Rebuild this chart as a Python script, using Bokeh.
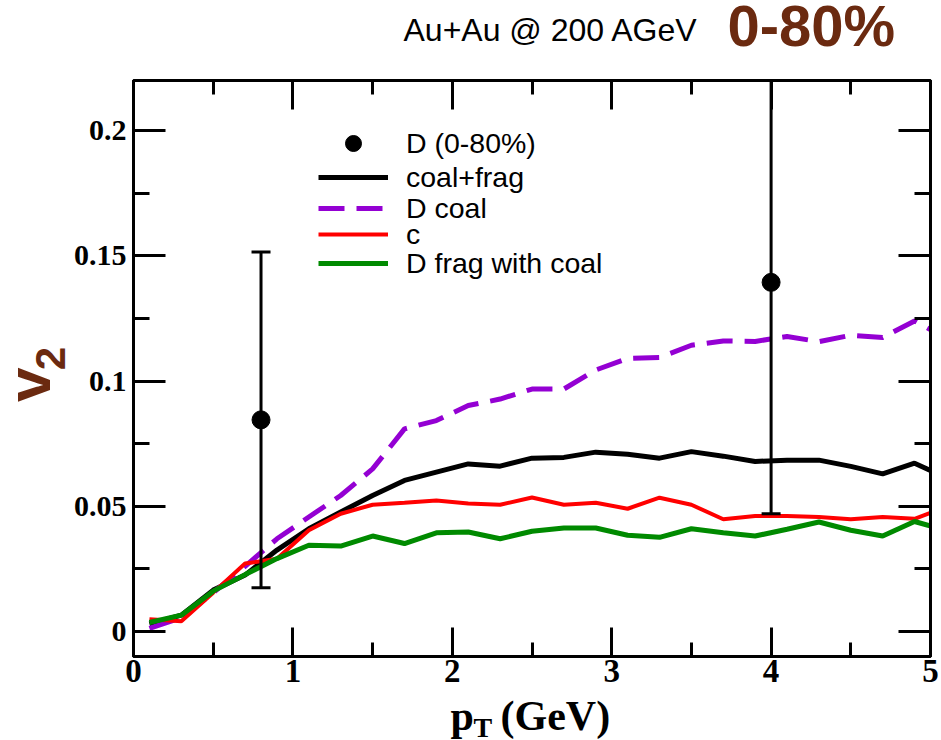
import math

from bokeh.embed import file_html
from bokeh.layouts import column, row
from bokeh.models import (ColumnDataSource, FixedTicker, Label, Legend,
                          LegendItem, LinearAxis, Range1d)
from bokeh.plotting import figure
from bokeh.resources import INLINE

# ---- data -----------------------------------------------------------------
pt = [0.1, 0.3, 0.5, 0.7, 0.9, 1.1, 1.3, 1.5, 1.7, 1.9, 2.1, 2.3, 2.5,
      2.7, 2.9, 3.1, 3.3, 3.5, 3.7, 3.9, 4.1, 4.3, 4.5, 4.7, 4.9, 5.1]

v2_coal_frag = [0.0030, 0.0065, 0.0165, 0.0225, 0.0325, 0.0410, 0.0477,
                0.0543, 0.0603, 0.0636, 0.0669, 0.0660, 0.0692, 0.0695,
                0.0716, 0.0708, 0.0692, 0.0718, 0.0700, 0.0679, 0.0684,
                0.0684, 0.0659, 0.0629, 0.0672, 0.0614]

v2_d_coal = [0.0012, 0.0055, 0.0155, 0.0260, 0.0370, 0.0457, 0.0543,
             0.0649, 0.0809, 0.0842, 0.0902, 0.0928, 0.0968, 0.0968,
             0.1044, 0.1090, 0.1094, 0.1143, 0.1160, 0.1158, 0.1178,
             0.1157, 0.1183, 0.1174, 0.1240, 0.1170]

v2_c = [0.0049, 0.0041, 0.0155, 0.0271, 0.0290, 0.0404, 0.0470, 0.0506,
        0.0514, 0.0523, 0.0511, 0.0506, 0.0535, 0.0506, 0.0514, 0.0490,
        0.0534, 0.0506, 0.0448, 0.0461, 0.0461, 0.0457, 0.0448, 0.0457,
        0.0450, 0.0498]

v2_d_frag = [0.0036, 0.0065, 0.0161, 0.0227, 0.0291, 0.0344, 0.0341,
             0.0381, 0.0351, 0.0394, 0.0397, 0.0370, 0.0400, 0.0413,
             0.0413, 0.0384, 0.0376, 0.0410, 0.0394, 0.0381, 0.0408,
             0.0437, 0.0404, 0.0381, 0.0439, 0.0403]

# measured D-meson v2 (0-80%) with its uncertainty
pt_d = [0.8, 4.0]
v2_d = [0.0845, 0.1394]
v2_d_err = [0.0670, 0.0924]

x_ticks = [0, 1, 2, 3, 4, 5]
x_tick_labels = ["0", "1", "2", "3", "4", "5"]
x_minor = [0.5, 1.5, 2.5, 3.5, 4.5]
y_ticks = [0, 0.05, 0.1, 0.15, 0.2]
y_tick_labels = ["0", "0.05", "0.1", "0.15", "0.2"]
y_minor = [0.025, 0.075, 0.125, 0.175]

# ---- page geometry --------------------------------------------------------
W, H = 941, 740
TOP_H = 60          # strip holding the collision / centrality caption
BOT_H = 42          # strip holding the x title
LEFT_W = 70         # strip holding the y title
MID_H = H - TOP_H - BOT_H
BROWN = "#6b2a10"

# distance from a text box's centre down to its baseline, per font size
SANS_MID = 0.35
SERIF_MID = 0.34


def strip(width, height):
    """A bare figure whose data units are its own pixels (y pointing down)."""
    f = figure(width=width, height=height, output_backend="svg",
               toolbar_location=None, x_axis_type=None, y_axis_type=None,
               x_range=Range1d(0, width), y_range=Range1d(height, 0),
               min_border=0, background_fill_color="white",
               border_fill_color="white")
    f.outline_line_color = None
    return f


def put(f, x, y, text, font, size, bold=False, color="black",
        align="left", angle=0.0):
    f.add_layout(Label(x=x, y=y, text=text, text_font=font,
                       text_font_style="bold" if bold else "normal",
                       text_font_size=f"{size}px", text_color=color,
                       text_align=align, text_baseline="middle",
                       angle=angle))


# ---- main plot ------------------------------------------------------------
p = figure(width=W - LEFT_W, height=MID_H, output_backend="svg",
           toolbar_location=None,
           x_range=Range1d(0.0, 5.0), y_range=Range1d(-0.01, 0.22),
           x_axis_type=None, y_axis_type=None,
           min_border_left=133 - LEFT_W, min_border_right=11,
           min_border_top=80 - TOP_H, min_border_bottom=H - BOT_H - 656,
           background_fill_color="white", border_fill_color="white")
p.outline_line_color = "black"
p.outline_line_width = 3


def style_axis(ax, ticks, minor, labels, major_len, minor_len, show, size):
    ax.ticker = FixedTicker(ticks=ticks, minor_ticks=minor)
    ax.axis_line_width = 3
    ax.axis_line_color = "black"
    ax.major_tick_in = major_len
    ax.major_tick_out = 0
    ax.minor_tick_in = minor_len
    ax.minor_tick_out = 0
    ax.major_tick_line_width = 3
    ax.minor_tick_line_width = 3
    ax.major_label_text_font = "Liberation Serif"
    ax.major_label_text_font_style = "bold"
    ax.major_label_text_font_size = size
    ax.major_label_text_color = "black"
    if show:
        ax.major_label_overrides = {t: l for t, l in zip(ticks, labels)}
    else:
        ax.major_label_overrides = {t: "" for t in ticks}
        ax.major_label_standoff = 0


xb = LinearAxis()
style_axis(xb, x_ticks, x_minor, x_tick_labels, 29, 14, True, "33px")
xb.major_label_standoff = 3
xt = LinearAxis()
style_axis(xt, x_ticks, x_minor, x_tick_labels, 29, 14, False, "1px")
yl = LinearAxis()
style_axis(yl, y_ticks, y_minor, y_tick_labels, 32, 16, True, "30px")
yl.major_label_standoff = 7
yr = LinearAxis()
style_axis(yr, y_ticks, y_minor, y_tick_labels, 32, 16, False, "1px")

p.add_layout(xb, "below")
p.add_layout(xt, "above")
p.add_layout(yl, "left")
p.add_layout(yr, "right")

# model curves
src = ColumnDataSource(dict(pt=pt, cf=v2_coal_frag, dc=v2_d_coal,
                            c=v2_c, df=v2_d_frag))
r_cf = p.line("pt", "cf", source=src, line_color="black", line_width=5)
r_dc = p.line("pt", "dc", source=src, line_color="#9400d3", line_width=5,
              line_dash="26 12")
r_c = p.line("pt", "c", source=src, line_color="#ff0000", line_width=4)
r_df = p.line("pt", "df", source=src, line_color="#008a00", line_width=5)

# data points with error bars
lo = [v - e for v, e in zip(v2_d, v2_d_err)]
hi = [v + e for v, e in zip(v2_d, v2_d_err)]
p.segment(x0=pt_d, y0=lo, x1=pt_d, y1=hi, line_color="black", line_width=3)
p.scatter(x=pt_d, y=lo, marker="dash", size=19, line_color="black",
          line_width=3)
p.scatter(x=pt_d, y=hi, marker="dash", size=19, line_color="black",
          line_width=3)
r_d = p.scatter(x=pt_d, y=v2_d, marker="circle", size=18,
                fill_color="black", line_color="black")

# legend: one entry per block so each row sits at its own height
entries = [("D (0-80%)", r_d, 493), ("coal+frag", r_cf, 459),
           ("D coal", r_dc, 428), ("c", r_c, 402),
           ("D frag with coal", r_df, 373)]
for label, rend, y_loc in entries:
    lg = Legend(items=[LegendItem(label=label, renderers=[rend])],
                location=(185, y_loc))
    lg.background_fill_alpha = 0
    lg.border_line_color = None
    lg.padding = 0
    lg.margin = 0
    lg.spacing = 0
    lg.label_height = 40
    lg.glyph_height = 40
    lg.glyph_width = 70
    lg.label_standoff = 18
    lg.label_text_font = "Liberation Sans"
    lg.label_text_font_size = "28.5px"
    lg.label_text_color = "black"
    p.add_layout(lg)

# ---- caption strip --------------------------------------------------------
top = strip(W, TOP_H)
put(top, 403, 41 - SANS_MID * 32, "Au+Au @ 200 AGeV", "Liberation Sans", 32)
put(top, 727, 45 - SANS_MID * 58, "0-80%", "Liberation Sans", 58,
    bold=True, color=BROWN)

# ---- y title strip: rotated v with subscript 2 ----------------------------
left = strip(LEFT_W, MID_H)
put(left, 50 - SANS_MID * 62, 397 - TOP_H, "v", "Liberation Sans", 62,
    bold=True, color=BROWN, align="center", angle=math.pi / 2)
put(left, 65 - SANS_MID * 42, 368 - TOP_H, "2", "Liberation Sans", 42,
    bold=True, color=BROWN, align="center", angle=math.pi / 2)

# ---- x title strip: p_T (GeV) ---------------------------------------------
bottom = strip(W, BOT_H)
yb = H - BOT_H
put(bottom, 450, 730 - yb - SERIF_MID * 42, "p", "Liberation Serif", 42,
    bold=True)
put(bottom, 473, 737 - yb - SERIF_MID * 28, "T", "Liberation Serif", 28,
    bold=True)
put(bottom, 500, 730 - yb - SERIF_MID * 42, "(GeV)", "Liberation Serif", 42,
    bold=True)

page = column(top, row(left, p, spacing=0), bottom, spacing=0)
open("out.html", "w").write(file_html(page, INLINE))
